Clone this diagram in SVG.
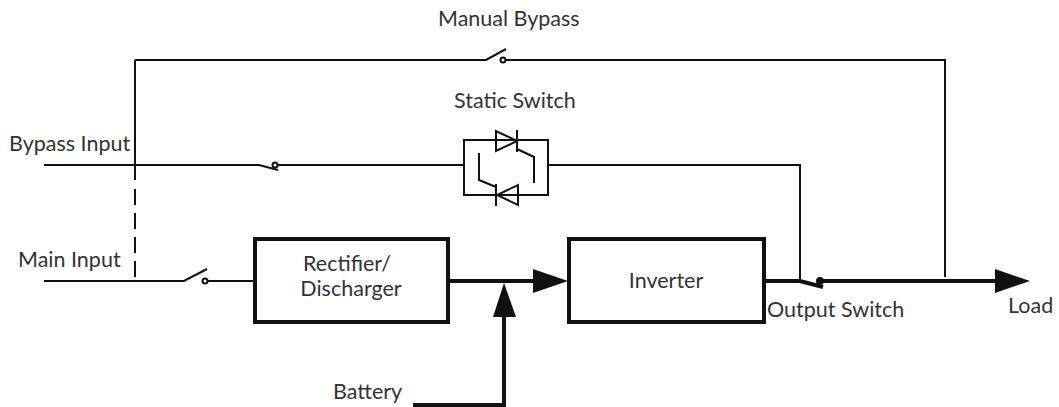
<svg xmlns="http://www.w3.org/2000/svg" width="1059" height="407" viewBox="0 0 1059 407">
<style>
text{font-family:Lato,"Liberation Sans",sans-serif;font-size:21.5px;fill:#333}
.w{fill:none;stroke:#111;stroke-width:2}
.t{fill:none;stroke:#111;stroke-width:4}
.b{fill:#fff;stroke:#111;stroke-width:4}
.c{fill:#111}
.o{fill:#fff;stroke:#111;stroke-width:2}
</style>
<rect width="1059" height="407" fill="#fff"/>
<g id="connectors">
<path class="w" d="M135 60H486L506 49M503 60H945V277"/>
<path class="w" d="M135 60V180"/>
<path class="w" d="M135 189V281" stroke-dasharray="16 8"/>
<path class="w" d="M44 165H259L278 170M274 165H464M549 165H800V279"/>
<path class="w" d="M44 281H184L207 269M205 281H254"/>
<path class="t" d="M449 281H535M764 281H800L823 287M819 281H998"/>
<path class="t" d="M504 405V315M413 405H506"/>
<polygon class="c" points="533,269 568,281 533,293"/>
<polygon class="c" points="493,317 504,283 516,317"/>
<polygon class="c" points="995,269 1030,281 995,293"/>
<circle cx="820" cy="281" r="4" class="c"/>
<circle cx="503" cy="60" r="2.5" class="o"/>
<circle cx="275" cy="165" r="2.5" class="o"/>
<circle cx="205" cy="281" r="2.5" class="o"/>
</g>
<g id="static-switch">
<rect class="w" x="464" y="140" width="84" height="55"/>
<path class="w" d="M496 131V151L517 141ZM517 130V152M517 149L534 157V183"/>
<path class="w" d="M518 185V205L497 195ZM496 184V206M496 187L479 180V153"/>
</g>
<g id="rectifier"><rect class="b" x="255" y="239" width="193" height="83"/></g>
<g id="inverter"><rect class="b" x="569" y="239" width="195" height="83"/></g>
<text x="438" y="26">Manual Bypass</text>
<text x="454" y="108">Static Switch</text>
<text x="9" y="151">Bypass Input</text>
<text x="18" y="267">Main Input</text>
<text x="347" y="271" text-anchor="middle">Rectifier/</text>
<text x="351" y="296" text-anchor="middle">Discharger</text>
<text x="666" y="288" text-anchor="middle">Inverter</text>
<text x="767" y="317">Output Switch</text>
<text x="1008" y="313">Load</text>
<text x="333" y="399">Battery</text>
</svg>
